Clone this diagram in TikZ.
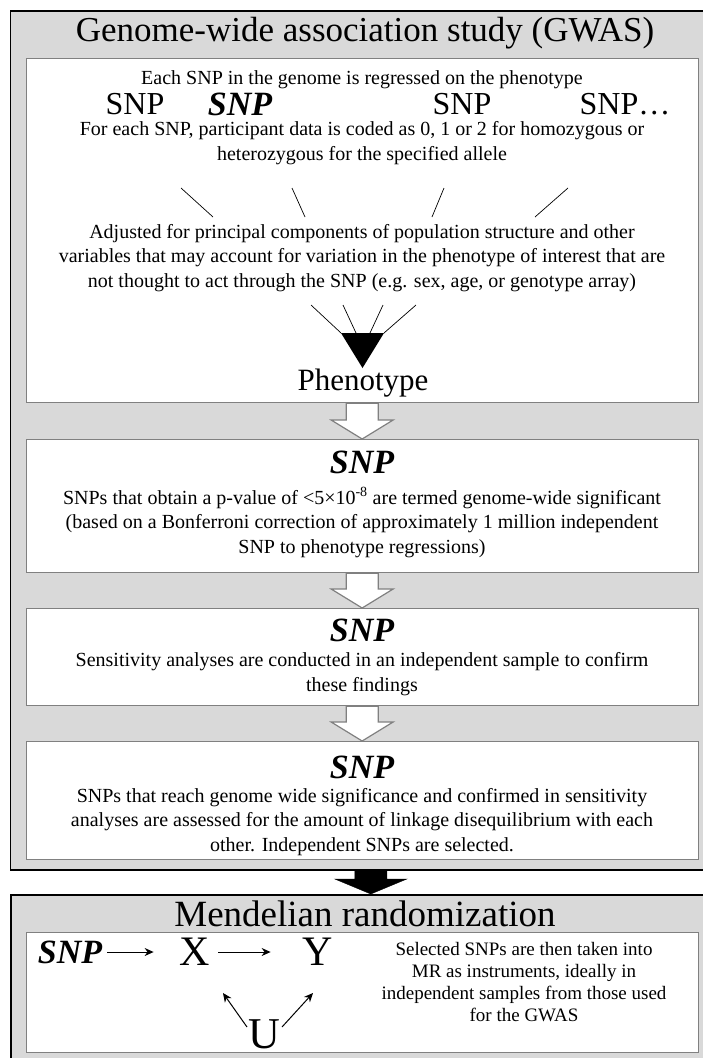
\documentclass[tikz,border=0pt]{standalone}
\usepackage{fontspec}
\setmainfont{Liberation Serif}
\usetikzlibrary{calc,arrows.meta}
\definecolor{panelgray}{HTML}{D9D9D9}
\definecolor{boxedge}{HTML}{808080}
\tikzset{
  panel/.style={draw=black, line width=1.6pt, fill=panelgray, anchor=north west, inner sep=0pt},
  stagebox/.style={draw=boxedge, line width=1.3pt, fill=white, anchor=north west, inner sep=0pt},
  body/.style={align=center, inner sep=0pt, font=\fontsize{20}{24.5}\selectfont},
  heading/.style={inner sep=0pt, font=\fontsize{35}{40}\selectfont},
  snpbig/.style={inner sep=0pt, font=\fontsize{32}{36}\selectfont},
  snpbold/.style={inner sep=0pt, font=\fontsize{34}{38}\selectfont\bfseries\itshape},
  letter/.style={inner sep=0pt, font=\fontsize{42}{44}\selectfont},
  thin/.style={line width=0.7pt, black},
  hollow/.style={draw=boxedge, line width=1.2pt, fill=white},
  solid/.style={draw=black, fill=black},
  mrarrow/.style={line width=1pt, -{Stealth[length=9pt,width=8pt]}},
}
% block arrow pointing down from one box to the next:
% #3 style, #4 head height, #5 head half-width
\newcommand\flowarrow[5]{%
  \path[#3] let \p1=(#1.south), \p2=(#2.north) in
    (\x2-16pt,\y1) -- (\x2+16pt,\y1) -- (\x2+16pt,\y2+#4) -- (\x2+#5,\y2+#4)
    -- (\x2,\y2) -- (\x2-#5,\y2+#4) -- (\x2-16pt,\y2+#4) -- cycle;}
\begin{document}
\begin{tikzpicture}[x=1pt,y=-1pt]
\useasboundingbox (0,0) rectangle (703,1058);
\clip (0,0) rectangle (703,1058);

% ---------- GWAS panel ----------
\node[panel, minimum width=720, minimum height=859] (gwas) at (9.5,10) {};
\node[heading] (gwastitle) at (365,33) {Genome-wide association study (GWAS)};

\node[stagebox, minimum width=672, minimum height=344] (b1) at (25.5,58) {};
\node[stagebox, minimum width=672, minimum height=133] (b2) at (25.5,439) {};
\node[stagebox, minimum width=672, minimum height=97]  (b3) at (25.5,608) {};
\node[stagebox, minimum width=672, minimum height=118] (b4) at (25.5,741) {};

% stage 1
\node[body] (each) at (362,80) {Each SNP in the genome is regressed on the phenotype};
\node[snpbig]  (s1) at (135,104) {SNP};
\node[snpbold] (s2) at (240,104) {SNP};
\node[snpbig]  (s3) at (462,104) {SNP};
\node[snpbig]  (s4) at (625,104) {SNP\dots};
\node[body] (coded) at (362,143) {For each SNP, participant data is coded as 0, 1 or 2 for homozygous or\\heterozygous for the specified allele};

\coordinate (l1a) at (181,188); \coordinate (l1b) at (213,217);
\coordinate (l2a) at (292,188); \coordinate (l2b) at (305,217);
\coordinate (l3a) at (444,188); \coordinate (l3b) at (432,217);
\coordinate (l4a) at (568,188); \coordinate (l4b) at (535,217);
\draw[thin] (l1a) -- (l1b);
\draw[thin] (l2a) -- (l2b);
\draw[thin] (l3a) -- (l3b);
\draw[thin] (l4a) -- (l4b);

\node[body] (adjusted) at (362,258) {Adjusted for principal components of population structure and other\\variables that may account for variation in the phenotype of interest that are\\not thought to act through the SNP (e.g. sex, age, or genotype array)};

% funnel into the phenotype
\coordinate (tl) at (341,333); \coordinate (tr) at (384,333); \coordinate (tip) at (362.5,368);
\fill[black] (tl) -- (tr) -- (tip) -- cycle;
\coordinate (f1) at (311,305); \coordinate (f2) at (343,305);
\coordinate (f3) at (383,305); \coordinate (f4) at (416,305);
\coordinate (g1) at (341,333); \coordinate (g2) at (356,333);
\coordinate (g3) at (370,333); \coordinate (g4) at (384,333);
\draw[thin] (f1) -- (g1);
\draw[thin] (f2) -- (g2);
\draw[thin] (f3) -- (g3);
\draw[thin] (f4) -- (g4);
\node[inner sep=0pt, font=\fontsize{31}{36}\selectfont] (pheno) at (363,383) {Phenotype};

% stage 2
\node[snpbold] (b2snp) at (362,462) {SNP};
\node[body] (b2text) at (362,522.5) {SNPs that obtain a p-value of <5×10\textsuperscript{-8} are termed genome-wide significant\\(based on a Bonferroni correction of approximately 1 million independent\\SNP to phenotype regressions)};

% stage 3
\node[snpbold] (b3snp) at (362,630) {SNP};
\node[body] (b3text) at (362,674) {Sensitivity analyses are conducted in an independent sample to confirm\\these findings};

% stage 4
\node[snpbold] (b4snp) at (362,767) {SNP};
\node[body] (b4text) at (362,822) {SNPs that reach genome wide significance and confirmed in sensitivity\\analyses are assessed for the amount of linkage disequilibrium with each\\other. Independent SNPs are selected.};

\flowarrow{b1}{b2}{hollow}{19pt}{31pt}
\flowarrow{b2}{b3}{hollow}{19pt}{31pt}
\flowarrow{b3}{b4}{hollow}{19pt}{31pt}

% ---------- Mendelian randomization panel ----------
\node[panel, minimum width=720, minimum height=200] (mr) at (10,894) {};
\node[inner sep=0pt, font=\fontsize{37}{40}\selectfont] (mrtitle) at (365,914) {Mendelian randomization};
\node[stagebox, minimum width=672, minimum height=120] (mrbox) at (25.5,932) {};

\flowarrow{gwas}{mr}{solid}{15pt}{36pt}

\node[snpbold] (msnp) at (70,952) {SNP};
\node[letter] (mx) at (195,952) {X};
\node[letter] (my) at (318,952) {Y};
\node[inner sep=0pt, font=\fontsize{44}{46}\selectfont] (mu) at (264,1034) {U};
\draw[mrarrow] ([xshift=5pt]msnp.east) -- ([xshift=-26pt]mx.west);
\draw[mrarrow] ([xshift=8pt]mx.east) -- ([xshift=-32pt]my.west);
\coordinate (ux1) at (247,1027); \coordinate (ux2) at (223,993);
\coordinate (uy1) at (282,1027); \coordinate (uy2) at (313,993);
\draw[mrarrow] (ux1) -- (ux2);
\draw[mrarrow] (uy1) -- (uy2);

\node[align=center, inner sep=0pt, font=\fontsize{19}{22.3}\selectfont] (mrtext) at (524,982) {Selected SNPs are then taken into\\MR as instruments, ideally in\\independent samples from those used\\for the GWAS};
\end{tikzpicture}
\end{document}
